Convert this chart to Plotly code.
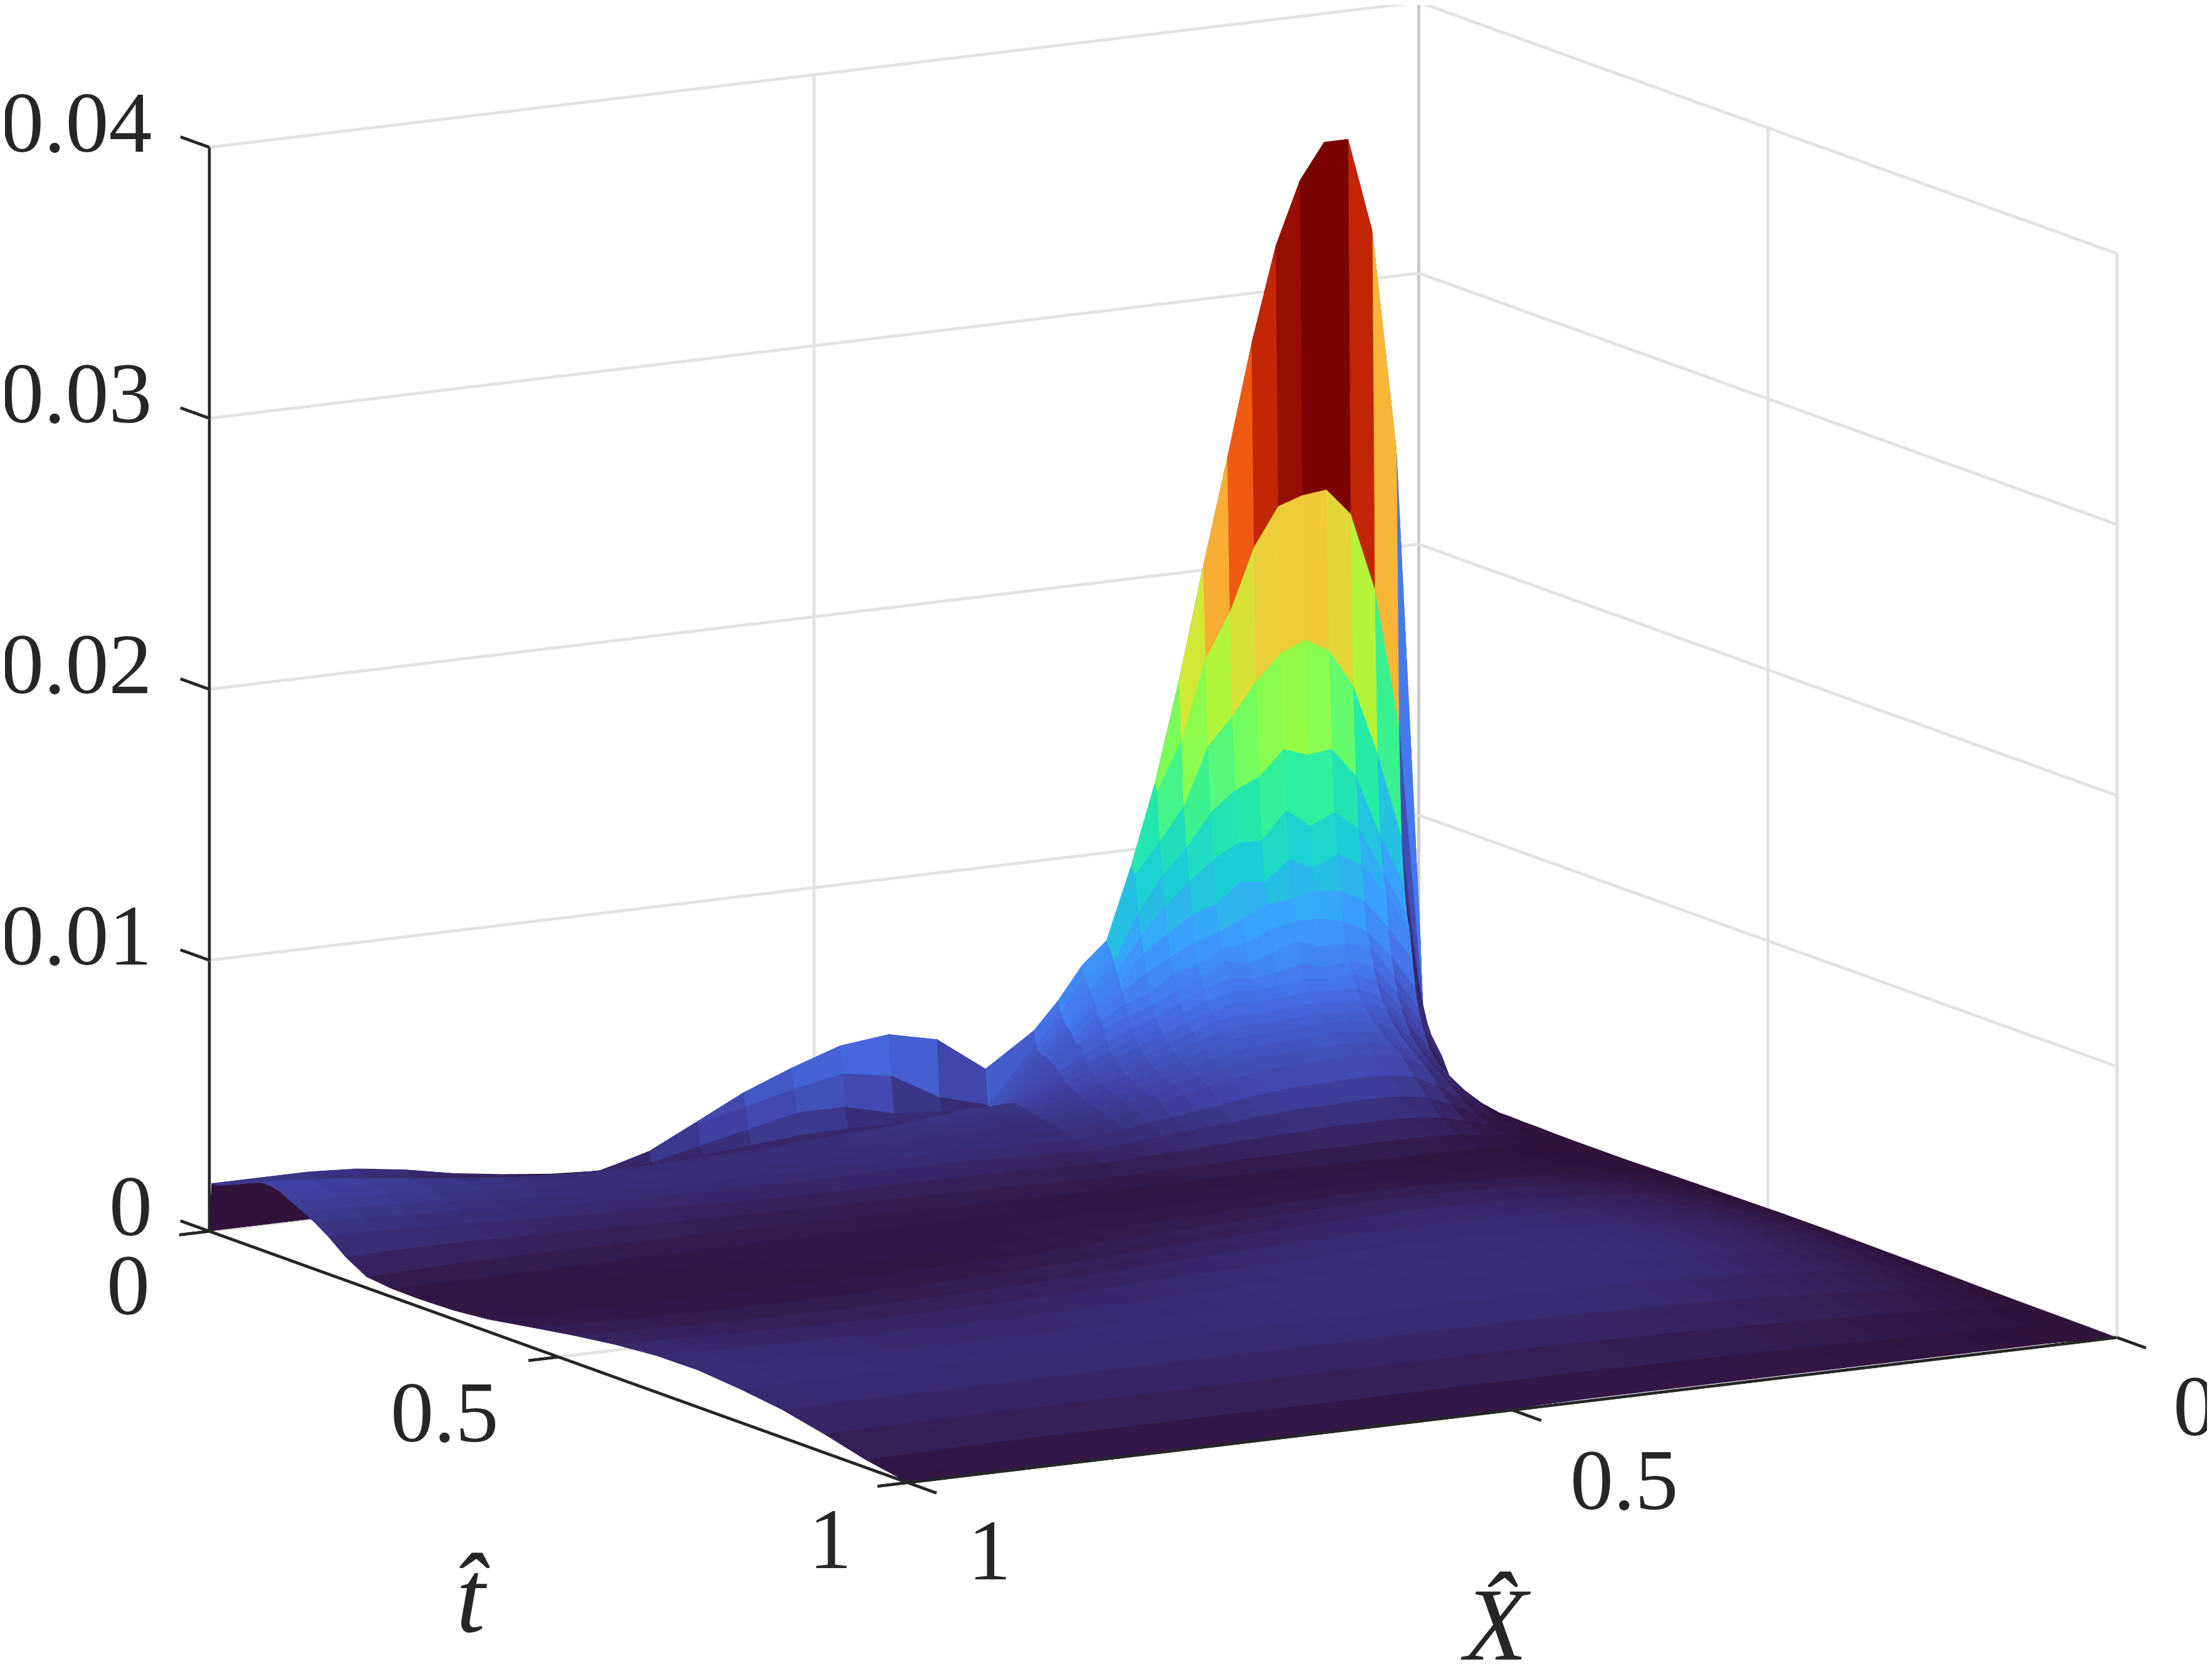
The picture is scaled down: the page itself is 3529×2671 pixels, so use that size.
import numpy as np
import plotly.graph_objects as go

# X-hat and t-hat grid lines of the mesh
x_hat = [0, .02, .04, .06, .08, .10, .12, .14, .16, .18, .20, .22, .24, .26, .28, .30, .32,
         .36, .40, .44, .48, .52, .56, .60, .64, .68, .72, .76, .80, .84, .88, .92, .96, 1.0]
t_hat = [0, .003, .0065, .010, .014, .018, .022, .026, .030, .034, .039, .044, .05, .057, .065, .075, .087,
         .10, .115, .132, .15, .17, .195, .225, .26, .30, .35, .40, .46, .52, .58, .64, .70, .76, .82, .88, .94, 1.0]

# height, one row per t_hat, in units of 1e-5
heights = [
    [0] * 34,
    [530, 2360, 3180, 3530, 3530, 3400, 3170, 2820, 2410, 2020, 1610, 1240, 940, 680, 600, 480, 380, 260, 390, 430, 410, 350, 280, 190, 100, 55, 65, 85, 110, 145, 170, 180, 180, 180],
    [300, 1350, 1860, 2150, 2250, 2240, 2210, 2070, 1840, 1680, 1390, 1210, 930, 660, 560, 440, 330, 130, 180, 280, 310, 275, 230, 190, 110, 60, 65, 85, 110, 140, 165, 175, 178, 178],
    [180, 940, 1260, 1520, 1660, 1710, 1670, 1580, 1460, 1360, 1150, 1030, 920, 640, 540, 420, 310, 110, 130, 145, 190, 190, 150, 110, 70, 50, 60, 80, 105, 135, 160, 172, 176, 178],
    [110, 770, 960, 1190, 1300, 1290, 1320, 1230, 1190, 1120, 1000, 910, 780, 610, 520, 400, 300, 105, 115, 110, 115, 110, 95, 80, 60, 50, 60, 78, 100, 130, 155, 170, 176, 180],
    [90, 660, 830, 1000, 1070, 1030, 1100, 1000, 1000, 950, 880, 800, 700, 580, 500, 390, 300, 115, 100, 85, 90, 90, 85, 75, 60, 55, 62, 78, 100, 128, 155, 170, 178, 185],
    [90, 600, 760, 870, 920, 880, 920, 850, 860, 790, 760, 700, 640, 540, 470, 380, 300, 140, 110, 90, 85, 85, 80, 72, 62, 58, 65, 80, 100, 128, 155, 172, 182, 190],
    [110, 500, 630, 740, 790, 800, 780, 770, 730, 690, 660, 620, 570, 510, 440, 360, 290, 150, 125, 100, 90, 85, 80, 75, 68, 62, 70, 85, 105, 130, 158, 175, 188, 195],
    [130, 400, 530, 630, 680, 700, 700, 680, 640, 630, 580, 560, 500, 470, 420, 340, 280, 155, 135, 115, 100, 95, 88, 80, 75, 70, 75, 90, 110, 135, 160, 180, 192, 200],
    [140, 330, 460, 580, 600, 600, 630, 600, 570, 590, 540, 500, 460, 430, 390, 350, 270, 160, 150, 125, 110, 105, 98, 90, 85, 80, 85, 98, 115, 140, 165, 185, 198, 205],
    [110, 280, 400, 510, 540, 530, 550, 530, 520, 530, 500, 460, 420, 390, 350, 310, 260, 165, 160, 140, 125, 115, 108, 100, 95, 92, 95, 105, 122, 145, 170, 190, 205, 212],
    [80, 240, 350, 460, 500, 490, 500, 490, 480, 490, 460, 430, 390, 360, 320, 290, 245, 170, 170, 150, 135, 125, 118, 110, 105, 102, 105, 115, 130, 152, 175, 195, 210, 220],
    [50, 200, 310, 410, 450, 450, 460, 450, 445, 450, 430, 400, 365, 330, 300, 265, 230, 170, 175, 155, 145, 135, 125, 120, 115, 112, 115, 122, 138, 158, 180, 200, 215, 228],
    [30, 170, 270, 370, 410, 415, 425, 415, 410, 415, 400, 370, 340, 305, 275, 245, 215, 165, 170, 158, 150, 140, 132, 128, 122, 120, 122, 130, 145, 165, 185, 205, 222, 235],
    [20, 150, 240, 335, 380, 385, 395, 385, 380, 385, 370, 345, 315, 285, 255, 230, 200, 160, 165, 160, 152, 145, 138, 132, 128, 128, 130, 138, 152, 172, 192, 212, 230, 242],
    [15, 130, 210, 300, 350, 360, 370, 360, 355, 355, 345, 320, 295, 265, 240, 215, 190, 155, 160, 158, 155, 148, 142, 138, 135, 135, 138, 145, 160, 178, 198, 218, 235, 248],
    [15, 110, 185, 270, 320, 335, 345, 335, 330, 330, 320, 300, 275, 250, 225, 205, 180, 150, 155, 155, 152, 148, 145, 142, 140, 140, 143, 150, 165, 183, 202, 220, 236, 248],
    [12, 90, 160, 240, 290, 305, 315, 310, 305, 305, 295, 280, 255, 235, 210, 190, 170, 145, 150, 150, 148, 146, 144, 142, 140, 142, 146, 152, 165, 182, 198, 214, 230, 240],
    [10, 70, 135, 210, 260, 275, 285, 280, 275, 275, 265, 250, 235, 215, 195, 175, 155, 135, 140, 142, 142, 140, 138, 136, 136, 138, 142, 148, 158, 172, 186, 200, 212, 220],
    [10, 45, 95, 155, 200, 215, 220, 220, 215, 215, 205, 195, 182, 170, 158, 146, 132, 115, 125, 128, 128, 126, 125, 124, 124, 126, 130, 136, 144, 156, 168, 180, 190, 198],
    [8, 30, 62, 105, 140, 155, 160, 160, 155, 155, 150, 145, 136, 130, 122, 114, 105, 92, 100, 106, 110, 110, 108, 108, 110, 112, 115, 120, 128, 138, 150, 160, 168, 172],
    [8, 18, 38, 62, 85, 95, 100, 100, 100, 98, 95, 92, 88, 84, 80, 76, 72, 66, 72, 76, 78, 80, 80, 80, 84, 90, 98, 102, 108, 116, 125, 132, 138, 138],
    [6, 12, 22, 32, 45, 50, 52, 52, 52, 52, 52, 50, 50, 48, 46, 46, 44, 42, 46, 50, 54, 56, 58, 60, 62, 66, 70, 74, 80, 84, 88, 90, 90, 85],
    [5, 8, 12, 16, 20, 22, 24, 25, 26, 28, 28, 30, 30, 30, 30, 30, 30, 30, 32, 36, 40, 42, 44, 46, 48, 50, 50, 50, 52, 52, 52, 50, 46, 40],
    [5, 10, 14, 18, 22, 25, 26, 28, 30, 32, 33, 34, 34, 34, 34, 34, 33, 32, 32, 34, 34, 36, 36, 36, 36, 36, 35, 34, 33, 32, 31, 30, 30, 30],
    [5, 12, 16, 20, 24, 28, 30, 32, 34, 36, 38, 38, 38, 38, 38, 38, 38, 38, 38, 38, 38, 36, 36, 36, 34, 34, 32, 30, 28, 28, 28, 28, 28, 28],
    [8, 18, 26, 34, 42, 48, 52, 56, 60, 62, 64, 66, 66, 66, 64, 62, 60, 56, 52, 48, 44, 38, 34, 30, 30, 30, 30, 30, 30, 30, 30, 30, 32, 32],
    [10, 24, 36, 48, 58, 66, 72, 78, 82, 86, 90, 92, 92, 92, 90, 88, 86, 80, 74, 68, 60, 52, 46, 42, 40, 38, 36, 36, 36, 36, 36, 38, 40, 45],
    [12, 30, 44, 58, 72, 82, 90, 96, 102, 106, 110, 112, 114, 114, 114, 112, 110, 106, 100, 94, 86, 78, 70, 64, 60, 56, 54, 52, 52, 54, 56, 60, 64, 72],
    [14, 34, 50, 66, 80, 92, 100, 108, 114, 118, 122, 124, 126, 128, 128, 128, 128, 124, 120, 116, 110, 102, 96, 90, 84, 80, 78, 76, 76, 78, 82, 86, 92, 98],
    [14, 36, 54, 70, 86, 98, 106, 114, 120, 124, 128, 132, 134, 136, 138, 138, 138, 136, 134, 130, 126, 122, 116, 110, 106, 102, 100, 100, 100, 102, 106, 110, 116, 120],
    [12, 36, 54, 70, 86, 98, 106, 114, 120, 126, 130, 134, 136, 138, 140, 142, 142, 142, 140, 138, 136, 132, 128, 124, 120, 118, 116, 116, 118, 120, 124, 126, 130, 134],
    [10, 32, 48, 64, 80, 92, 100, 108, 114, 120, 124, 128, 132, 134, 136, 138, 138, 140, 140, 138, 136, 134, 130, 128, 126, 124, 124, 124, 126, 128, 130, 132, 136, 136],
    [8, 26, 40, 54, 68, 78, 86, 92, 98, 104, 108, 112, 116, 120, 122, 124, 126, 128, 128, 128, 126, 124, 122, 122, 120, 120, 120, 120, 122, 124, 124, 124, 122, 122],
    [5, 18, 30, 40, 50, 58, 64, 70, 74, 80, 84, 88, 92, 94, 96, 98, 100, 104, 104, 104, 104, 104, 104, 104, 104, 104, 104, 104, 104, 104, 104, 104, 104, 102],
    [3, 10, 18, 24, 30, 36, 40, 44, 48, 50, 54, 56, 60, 62, 64, 66, 66, 70, 72, 74, 74, 74, 74, 74, 74, 74, 74, 74, 74, 74, 74, 72, 70, 68],
    [2, 5, 8, 10, 14, 16, 18, 20, 22, 24, 26, 28, 28, 30, 30, 32, 32, 34, 36, 36, 36, 36, 36, 36, 36, 36, 36, 36, 36, 36, 36, 34, 32, 28],
    [0, 4, 6, 8, 8, 8, 8, 8, 8, 8, 8, 8, 8, 8, 8, 8, 8, 8, 8, 8, 6, 4, 2, 2, 2, 2, 2, 2, 2, 2, 2, 2, 2, 0],
]

z_ticks = [0, .01, .02, .03, .04]
z_labels = ['0', '0.01', '0.02', '0.03', '0.04']
flat_ticks = [0, .5, 1]
flat_labels = ['0', '0.5', '1']

ink = '#262626'
grid_col = '#e2e2e2'
font_name = 'Liberation Serif'
font_px = 138
title_px = 165
tick_x, tick_t = .025, .0415

Z = np.array(heights) * 1e-5
nt, nx = Z.shape
gx, gt = np.meshgrid(x_hat, t_hat)

# two triangles per quad, each painted with the colour of the quad's first corner like flat shading
idx = np.arange(nt * nx).reshape(nt, nx)
a, b, c, d = idx[:-1, :-1].ravel(), idx[:-1, 1:].ravel(), idx[1:, 1:].ravel(), idx[1:, :-1].ravel()
cell_z = np.repeat(Z[:-1, :-1].ravel(), 2)
i = np.column_stack([a, a]).ravel()
j = np.column_stack([b, c]).ravel()
k = np.column_stack([c, d]).ravel()

surface = go.Mesh3d(x=gx.ravel(), y=gt.ravel(), z=Z.ravel(), i=i, j=j, k=k,
                    intensity=cell_z, intensitymode='cell', colorscale='Turbo', cmin=0, cmax=.0353,
                    showscale=False, flatshading=True, hoverinfo='skip',
                    lighting=dict(ambient=1, diffuse=0, specular=0, fresnel=0, roughness=1))


def segments(pairs, color, width):
    # pairs of end points joined into one broken line
    xs, ys, zs = [], [], []
    for p, q in pairs:
        xs += [p[0], q[0], None]
        ys += [p[1], q[1], None]
        zs += [p[2], q[2], None]
    return go.Scatter3d(x=xs, y=ys, z=zs, mode='lines', line=dict(color=color, width=width),
                        hoverinfo='skip', showlegend=False)


zmax = z_ticks[-1]
grid = []
for v in flat_ticks:
    grid.append(((v, 0, 0), (v, 0, zmax)))      # back wall verticals
    grid.append(((0, v, 0), (0, v, zmax)))      # side wall verticals
    grid.append(((v, 0, 0), (v, 1, 0)))         # floor
    grid.append(((0, v, 0), (1, v, 0)))
for v in z_ticks:
    grid.append(((0, 0, v), (1, 0, v)))
    grid.append(((0, 0, v), (0, 1, v)))
corner = [((0, 0, 0), (0, 0, zmax))]

axes = [((1, 0, 0), (1, 0, zmax)), ((1, 0, 0), (1, 1, 0)), ((0, 1, 0), (1, 1, 0))]
for v in z_ticks:
    axes.append(((1, 0, v), (1, -tick_t, v)))
for v in flat_ticks:
    axes.append(((1, v, 0), (1 + tick_x, v, 0)))
    axes.append(((v, 1, 0), (v, 1 + tick_t, 0)))

notes = []


def label(x, y, z, text, dx, dy, size=font_px):
    notes.append(dict(x=x, y=y, z=z, text=text, showarrow=False, xanchor='center', yanchor='middle',
                      xshift=dx, yshift=dy, font=dict(family=font_name, size=size, color=ink)))


for v, s in zip(z_ticks, z_labels):
    label(1, 0, v, s, -126 if v == 0 else -212, 40)
label(1, 0, 0, flat_labels[0], -130, -86)
label(1, .5, 0, flat_labels[1], -182, -88)
label(1, 1, 0, flat_labels[2], -124, -90)
label(1, 1, 0, flat_labels[2], 130, -108)
label(.5, 1, 0, flat_labels[1], 179, -112)
label(0, 1, 0, flat_labels[0], 124, -109)
label(1, .5, 0, '<i>t\u0302</i>', -137, -382, title_px)
label(.5, 1, 0, '<i>X\u0302</i>', -26, -343, title_px)

# view found from the box corners in the picture: azimuth 60, elevation 12
# in an orthographic scene the size comes from the aspect ratio, not from the eye distance
scale = 1.668
dist = 2.5
center = np.array([.0413, -.0097, -.1164])
eye = center + dist * np.array([.4891, .8471, .2079])
hidden = dict(visible=False, showspikes=False)

fig = go.Figure([surface, segments(grid, grid_col, 9), segments(corner, '#c8c8c8', 9), segments(axes, ink, 9)])
fig.update_layout(
    width=3529, height=2671, paper_bgcolor='white', margin=dict(l=0, r=0, t=0, b=0),
    scene=dict(
        domain=dict(x=[0, 1], y=[0, 1]),
        xaxis=dict(range=[0, 1 + 1.2 * tick_x], **hidden),
        yaxis=dict(range=[-1.2 * tick_t, 1 + 1.2 * tick_t], **hidden),
        zaxis=dict(range=[0, zmax], **hidden),
        aspectmode='manual',
        aspectratio=dict(x=scale * (1 + 1.2 * tick_x), y=scale * (1 + 2.4 * tick_t), z=1.324),
        camera=dict(projection=dict(type='orthographic'), up=dict(x=0, y=0, z=1),
                    center=dict(x=center[0], y=center[1], z=center[2]),
                    eye=dict(x=eye[0], y=eye[1], z=eye[2])),
        annotations=notes,
    ),
)
fig.write_html('out.html')
